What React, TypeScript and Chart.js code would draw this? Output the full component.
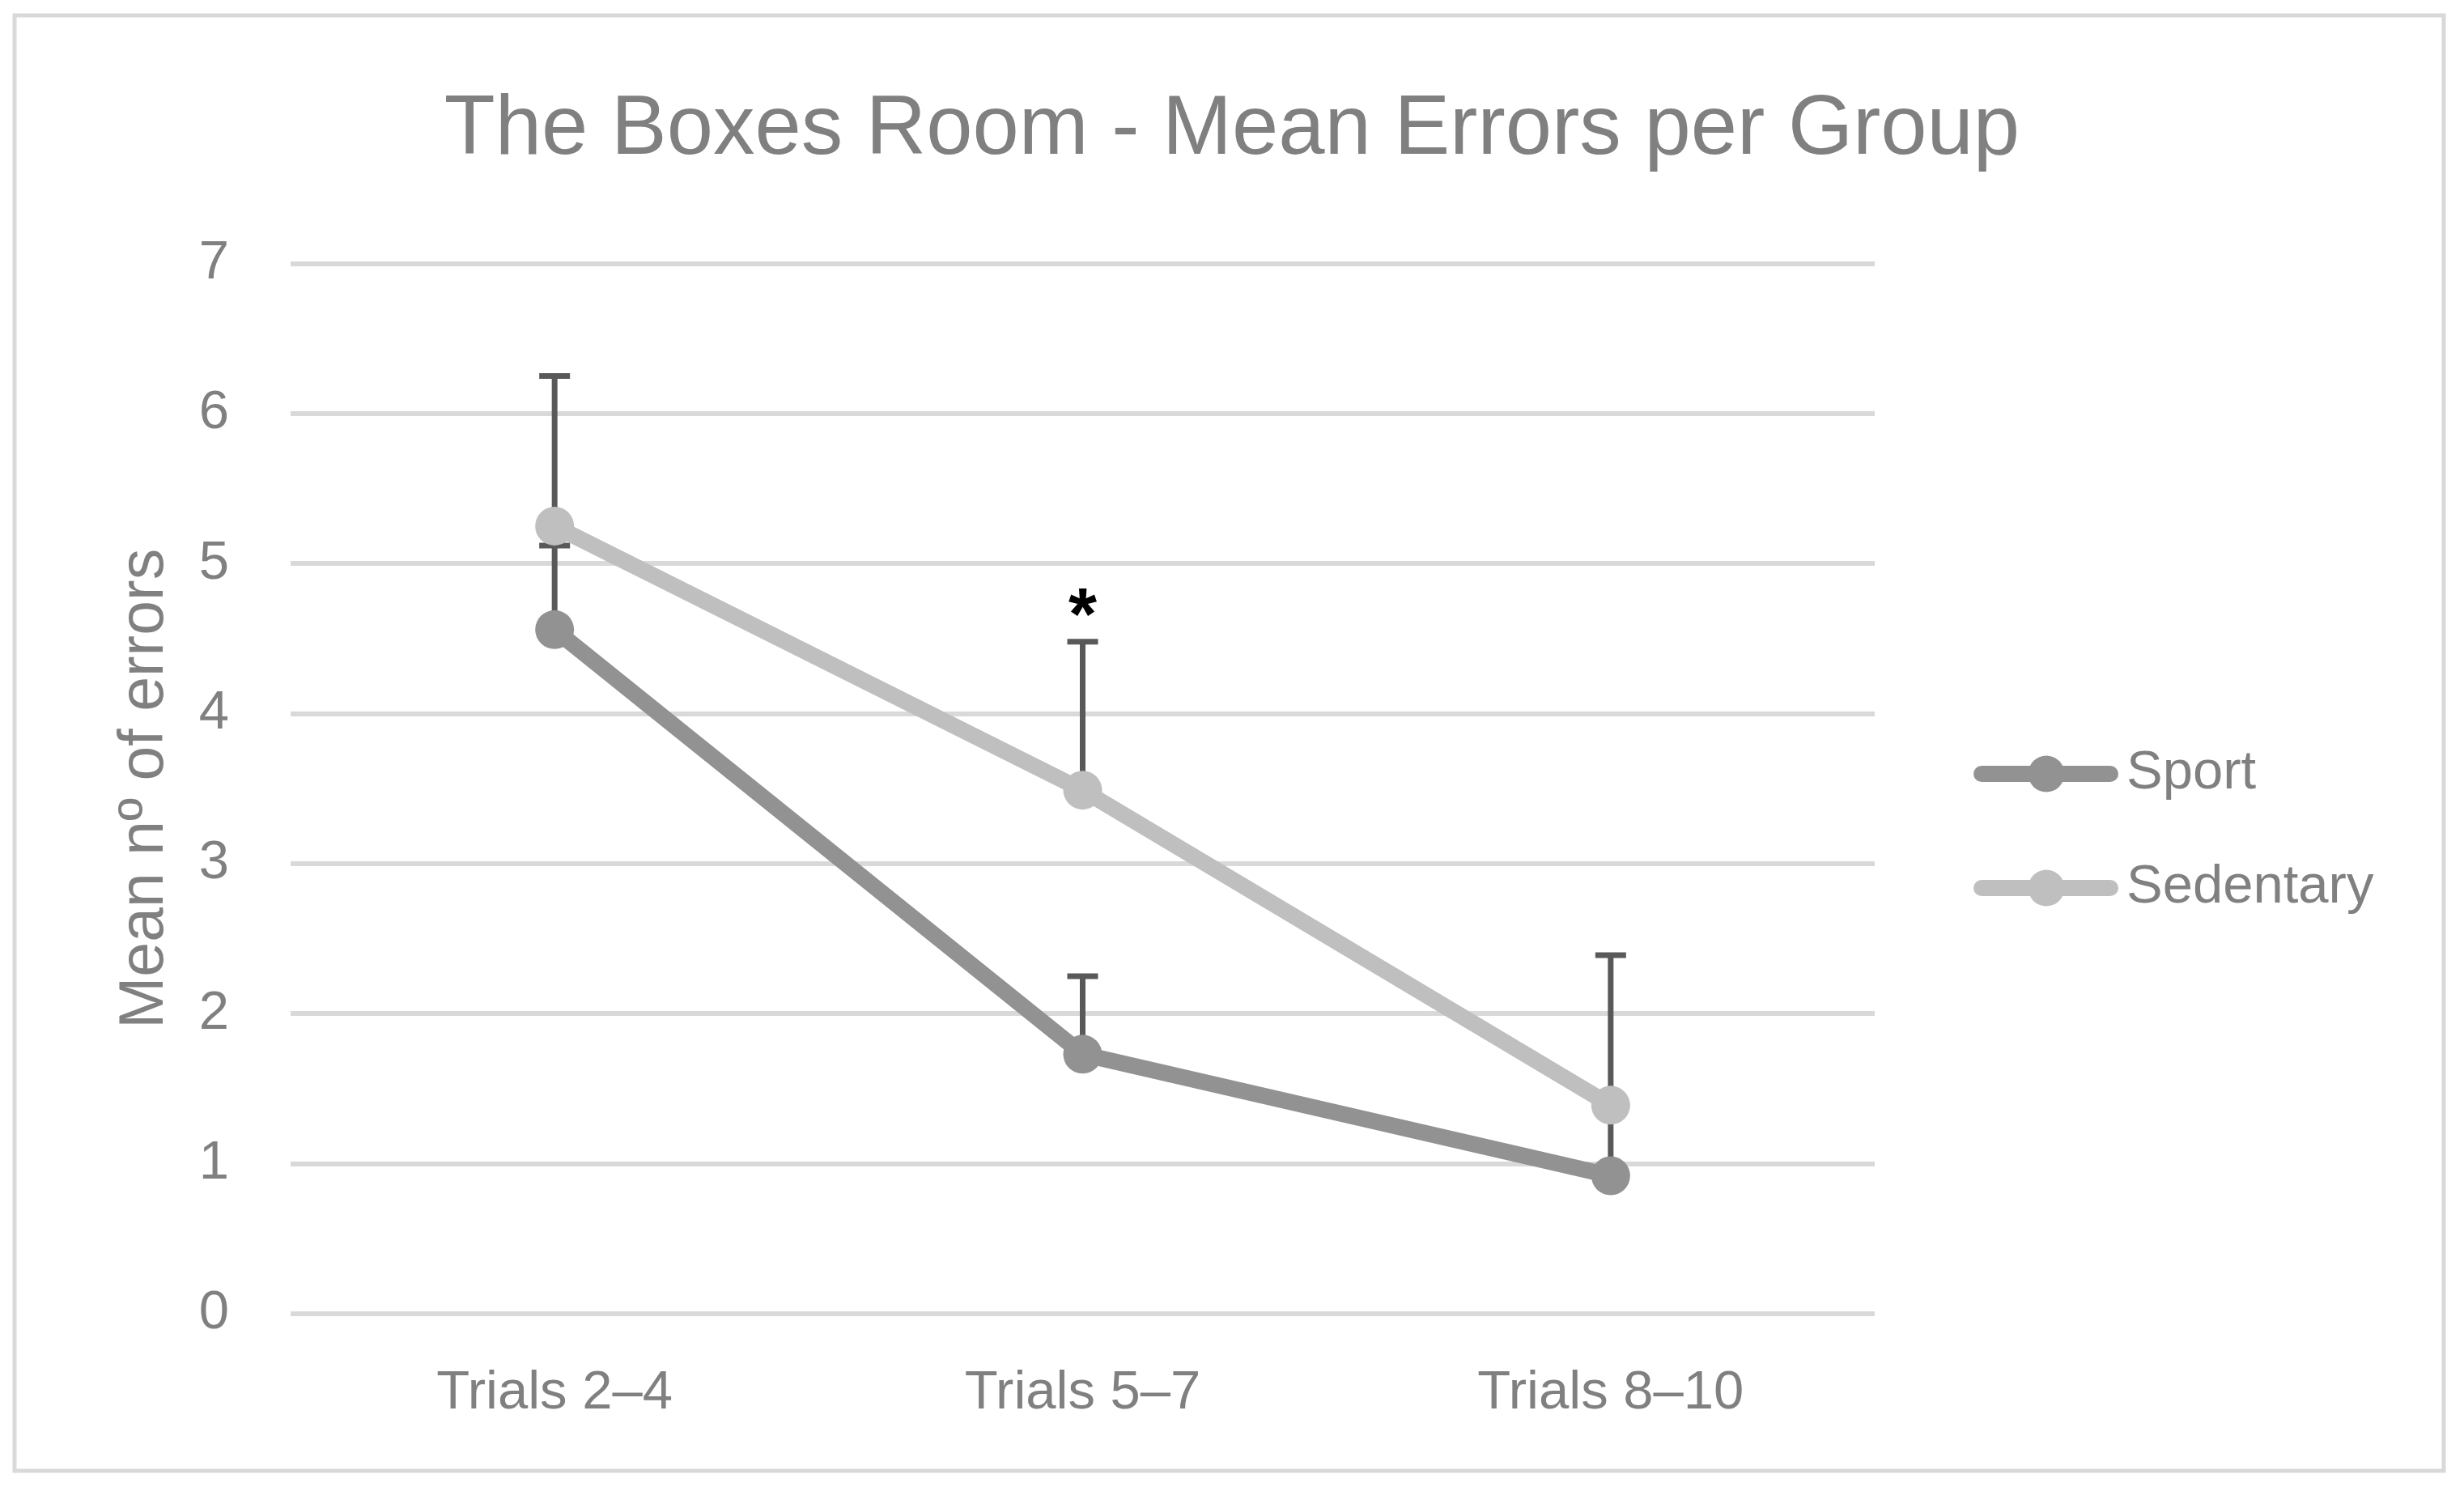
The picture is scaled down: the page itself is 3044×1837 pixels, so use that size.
import React, { useEffect, useRef } from 'react';
import { Chart, registerables } from 'chart.js';

Chart.register(...registerables);

// ---- data ----
const categories = ['Trials 2–4', 'Trials 5–7', 'Trials 8–10'];
const seriesNames = ['Sport', 'Sedentary'];
const sportMeans = [4.56, 1.73, 0.92];
const sportErrors = [0.56, 0.52, 0.46];
const sedentaryMeans = [5.25, 3.49, 1.39];
const sedentaryErrors = [1.0, 0.99, 1.0];
const significance = ['', '*', ''];
const yTicks = [0, 1, 2, 3, 4, 5, 6, 7];
const titleText = 'The Boxes Room - Mean Errors per Group';
const yTitleText = 'Mean nº of errors';

// ---- style ----
const W = 3044;
const H = 1837;
const FONT = "'Liberation Sans', Arial, sans-serif";
const TEXT = '#808080';
const SPORT_COLOR = '#929292';
const SED_COLOR = '#bfbfbf';
const ERR_COLOR = '#595959';
const GRID_COLOR = '#d9d9d9';

const backgroundPlugin = {
  id: 'bgBorder',
  beforeDraw(chart: any) {
    const ctx = chart.ctx;
    ctx.save();
    ctx.fillStyle = '#ffffff';
    ctx.fillRect(0, 0, chart.width, chart.height);
    ctx.strokeStyle = GRID_COLOR;
    ctx.lineWidth = 5;
    ctx.strokeRect(18, 19, 3001, 1798);
    ctx.restore();
  },
};

const errorBarPlugin = {
  id: 'errorBars',
  beforeDatasetsDraw(chart: any) {
    const ctx = chart.ctx;
    const yScale = chart.scales.y;
    ctx.save();
    ctx.strokeStyle = ERR_COLOR;
    ctx.lineWidth = 7;
    ctx.lineCap = 'butt';
    chart.data.datasets.forEach((ds: any, i: number) => {
      const meta = chart.getDatasetMeta(i);
      const errs: number[] = ds.errorPlus || [];
      meta.data.forEach((el: any, j: number) => {
        const v = ds.data[j];
        const e = errs[j];
        if (v == null || e == null) return;
        const x = el.x;
        const y0 = el.y;
        const y1 = yScale.getPixelForValue(v + e);
        ctx.beginPath();
        ctx.moveTo(x, y0);
        ctx.lineTo(x, y1);
        ctx.stroke();
        ctx.beginPath();
        ctx.moveTo(x - 19, y1);
        ctx.lineTo(x + 19, y1);
        ctx.stroke();
      });
    });
    ctx.restore();
  },
};

const significancePlugin = {
  id: 'significance',
  afterDatasetsDraw(chart: any) {
    const ctx = chart.ctx;
    const xScale = chart.scales.x;
    const yScale = chart.scales.y;
    ctx.save();
    ctx.fillStyle = '#000000';
    ctx.font = `bold 90px ${FONT}`;
    ctx.textAlign = 'center';
    ctx.textBaseline = 'alphabetic';
    significance.forEach((mark, j) => {
      if (!mark) return;
      let top = -Infinity;
      chart.data.datasets.forEach((ds: any) => {
        const v = ds.data[j] + ((ds.errorPlus || [])[j] || 0);
        if (v > top) top = v;
      });
      const cx = xScale.getPixelForValue(j);
      const cy = yScale.getPixelForValue(top) - 49;
      const m = ctx.measureText(mark);
      const asc = m.actualBoundingBoxAscent;
      const desc = m.actualBoundingBoxDescent;
      ctx.fillText(mark, cx, cy + (asc - desc) / 2);
    });
    ctx.restore();
  },
};

const legendPlugin = {
  id: 'sideLegend',
  afterDraw(chart: any) {
    const ctx = chart.ctx;
    const right = chart.chartArea.right;
    ctx.save();
    chart.data.datasets.forEach((ds: any, i: number) => {
      const y = 956 + i * 141;
      const x0 = right + 132;
      const x1 = right + 291;
      const cx = right + 212;
      ctx.strokeStyle = ds.borderColor;
      ctx.lineWidth = 20;
      ctx.lineCap = 'round';
      ctx.beginPath();
      ctx.moveTo(x0, y);
      ctx.lineTo(x1, y);
      ctx.stroke();
      ctx.fillStyle = ds.borderColor;
      ctx.beginPath();
      ctx.arc(cx, y, 22.5, 0, Math.PI * 2);
      ctx.fill();
      ctx.fillStyle = TEXT;
      ctx.font = `67px ${FONT}`;
      ctx.textAlign = 'left';
      ctx.textBaseline = 'middle';
      ctx.fillText(ds.label, right + 311, y);
    });
    ctx.restore();
  },
};

export default function App() {
  const canvasRef = useRef<HTMLCanvasElement>(null);

  useEffect(() => {
    if (!canvasRef.current) return;
    const chart = new Chart(canvasRef.current, {
      type: 'line',
      data: {
        labels: categories,
        datasets: [
          {
            label: seriesNames[0],
            data: sportMeans,
            errorPlus: sportErrors,
            borderColor: SPORT_COLOR,
            backgroundColor: SPORT_COLOR,
            pointBackgroundColor: SPORT_COLOR,
            borderWidth: 20,
            pointRadius: 24,
            pointHoverRadius: 24,
            pointBorderWidth: 0,
            tension: 0,
            order: 1,
          } as any,
          {
            label: seriesNames[1],
            data: sedentaryMeans,
            errorPlus: sedentaryErrors,
            borderColor: SED_COLOR,
            backgroundColor: SED_COLOR,
            pointBackgroundColor: SED_COLOR,
            borderWidth: 20,
            pointRadius: 24,
            pointHoverRadius: 24,
            pointBorderWidth: 0,
            tension: 0,
            order: 0,
          } as any,
        ],
      },
      options: {
        responsive: false,
        maintainAspectRatio: false,
        devicePixelRatio: 1,
        animation: false,
        events: [],
        layout: { padding: { left: 0, right: 0, top: 0, bottom: 0 } },
        plugins: {
          legend: { display: false },
          tooltip: { enabled: false },
          title: {
            display: true,
            text: titleText,
            color: TEXT,
            font: { family: FONT, size: 103, weight: 'normal' },
            padding: { top: 100, bottom: 102 },
          },
        },
        scales: {
          x: {
            type: 'category',
            offset: true,
            grid: { display: false, drawTicks: false },
            border: { display: false },
            ticks: {
              color: TEXT,
              font: { family: FONT, size: 67 },
              padding: 58,
              maxRotation: 0,
            },
            afterFit: (s: any) => {
              s.height = H - 1623;
            },
          },
          y: {
            min: 0,
            max: 7,
            afterBuildTicks: (s: any) => {
              s.ticks = yTicks.map((v) => ({ value: v }));
            },
            ticks: {
              color: TEXT,
              font: { family: FONT, size: 67 },
              padding: 76,
            },
            grid: { color: GRID_COLOR, lineWidth: 6, drawTicks: false },
            border: { display: false },
            title: {
              display: true,
              text: yTitleText,
              color: TEXT,
              font: { family: FONT, size: 77 },
              padding: { top: 134, bottom: 0 },
            },
            afterFit: (s: any) => {
              s.width = 359;
            },
          },
          legendSpace: {
            type: 'linear',
            position: 'right',
            display: true,
            grid: { display: false, drawTicks: false },
            border: { display: false },
            ticks: { display: false },
            afterFit: (s: any) => {
              s.width = W - 2316;
            },
          },
        },
      } as any,
      plugins: [backgroundPlugin, errorBarPlugin, significancePlugin, legendPlugin],
    });
    return () => chart.destroy();
  }, []);

  return (
    <div style={{ position: 'fixed', left: 0, top: 0, width: W, height: H, background: '#ffffff' }}>
      <canvas ref={canvasRef} width={W} height={H} style={{ display: 'block', width: W, height: H }} />
    </div>
  );
}
